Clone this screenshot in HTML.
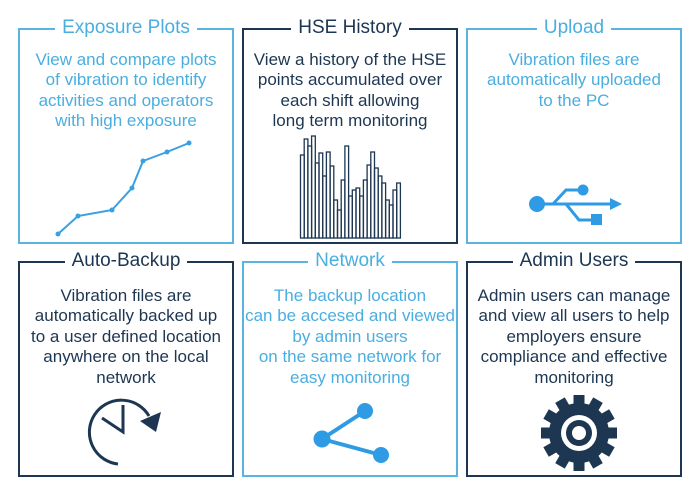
<!DOCTYPE html>
<html><head><meta charset="utf-8"><style>
body{margin:0;width:700px;height:501px;background:#fff;position:relative;overflow:hidden;font-family:"Liberation Sans",sans-serif}
.b{position:absolute;box-sizing:border-box;border:2px solid}
.l{border-color:#5ab4e2;color:#4aaee0}
.d{border-color:#1d3652;color:#1d3652}
.t{position:absolute;top:-13px;left:0;right:0;text-align:center;font-size:19px;line-height:22px}
.t span{background:#fff;padding:0 7px}
.x{position:absolute;left:-10px;right:-10px;text-align:center;font-size:17px;line-height:20.4px;white-space:nowrap}
svg{position:absolute;left:0;top:0}
</style></head><body>
<div class="b l" style="left:18px;top:28px;width:216px;height:216px"><div class="t"><span>Exposure Plots</span></div><div class="x" style="top:20px">View and compare plots<br>of vibration to identify<br>activities and operators<br>with high exposure</div></div>
<div class="b d" style="left:242px;top:28px;width:216px;height:216px"><div class="t"><span>HSE History</span></div><div class="x" style="top:20px">View a history of the HSE<br>points accumulated over<br>each shift allowing<br>long term monitoring</div></div>
<div class="b l" style="left:466px;top:28px;width:216px;height:216px"><div class="t"><span>Upload</span></div><div class="x" style="top:20px">Vibration files are<br>automatically uploaded<br>to the PC</div></div>
<div class="b d" style="left:18px;top:261px;width:216px;height:216px"><div class="t"><span>Auto-Backup</span></div><div class="x" style="top:23px">Vibration files are<br>automatically backed up<br>to a user defined location<br>anywhere on the local<br>network</div></div>
<div class="b l" style="left:242px;top:261px;width:216px;height:216px"><div class="t"><span>Network</span></div><div class="x" style="top:23px">The backup location<br>can be accesed and viewed<br>by admin users<br>on the same network for<br>easy monitoring</div></div>
<div class="b d" style="left:466px;top:261px;width:216px;height:216px"><div class="t"><span>Admin Users</span></div><div class="x" style="top:23px">Admin users can manage<br>and view all users to help<br>employers ensure<br>compliance and effective<br>monitoring</div></div>
<svg width="700" height="501">
<g fill="#3aa0e0" stroke="#3aa0e0">
<polyline fill="none" stroke-width="2" points="58,234 78,216 112,210 132,188 143,161 167,152 189,143"/>
<g stroke="none"><circle cx="58" cy="234" r="2.5"/><circle cx="78" cy="216" r="2.5"/><circle cx="112" cy="210" r="2.5"/><circle cx="132" cy="188" r="2.5"/><circle cx="143" cy="161" r="2.5"/><circle cx="167" cy="152" r="2.5"/><circle cx="189" cy="143" r="2.5"/></g>
</g>
<g fill="none" stroke="#1d3652" stroke-width="1.3">
<rect x="300.5" y="155" width="3.7" height="83"/><rect x="304.2" y="139" width="3.7" height="99"/><rect x="307.9" y="146" width="3.7" height="92"/><rect x="311.6" y="136" width="3.7" height="102"/><rect x="315.3" y="163" width="3.7" height="75"/><rect x="319" y="153" width="3.7" height="85"/><rect x="322.7" y="176" width="3.7" height="62"/><rect x="326.4" y="152" width="3.7" height="86"/><rect x="330.1" y="166" width="3.7" height="72"/><rect x="333.8" y="200" width="3.7" height="38"/><rect x="337.5" y="210" width="3.7" height="28"/><rect x="341.2" y="180" width="3.7" height="58"/><rect x="344.9" y="146" width="3.7" height="92"/><rect x="348.6" y="196" width="3.7" height="42"/><rect x="352.3" y="190" width="3.7" height="48"/><rect x="356" y="188" width="3.7" height="50"/><rect x="359.7" y="196" width="3.7" height="42"/><rect x="363.4" y="180" width="3.7" height="58"/><rect x="367.1" y="165" width="3.7" height="73"/><rect x="370.8" y="152" width="3.7" height="86"/><rect x="374.5" y="168" width="3.7" height="70"/><rect x="378.2" y="176" width="3.7" height="62"/><rect x="381.9" y="183" width="3.7" height="55"/><rect x="385.6" y="200" width="3.7" height="38"/><rect x="389.3" y="205" width="3.7" height="33"/><rect x="393" y="190" width="3.7" height="48"/><rect x="396.7" y="183" width="3.7" height="55"/>
</g>
<g fill="#2f9be4" stroke="#2f9be4" stroke-width="3">
<circle cx="537" cy="204" r="8" stroke="none"/>
<line x1="537" y1="204" x2="612" y2="204"/>
<polygon points="622,204 610,198 610,210" stroke="none"/>
<polyline fill="none" points="553,204 566,190 583,190"/>
<circle cx="583" cy="190" r="5.5" stroke="none"/>
<polyline fill="none" points="566,204 579,220 592,220"/>
<rect x="591" y="214" width="11" height="11" stroke="none"/>
</g>
<g fill="#2f9be4" stroke="#2f9be4" stroke-width="4">
<line x1="365" y1="411" x2="322" y2="439"/><line x1="322" y1="439" x2="381" y2="455"/>
<circle cx="365" cy="411" r="8" stroke="none"/><circle cx="322" cy="439" r="8.5" stroke="none"/><circle cx="381" cy="455" r="8" stroke="none"/>
</g>
<g fill="none" stroke="#1d3652" stroke-width="3">
<path d="M118,464 A32,32 0 1 1 149,416"/>
<polyline points="123,405 123,432 102,418"/>
</g>
<polygon points="140,421 161,412 156,432" fill="#1d3652"/>
<g transform="translate(579,433)" fill="#1d3652">
<circle r="30"/>
<g id="tt"><rect x="-5.5" y="-38" width="11" height="12"/></g>
<use href="#tt" transform="rotate(30)"/><use href="#tt" transform="rotate(60)"/><use href="#tt" transform="rotate(90)"/><use href="#tt" transform="rotate(120)"/><use href="#tt" transform="rotate(150)"/><use href="#tt" transform="rotate(180)"/><use href="#tt" transform="rotate(210)"/><use href="#tt" transform="rotate(240)"/><use href="#tt" transform="rotate(270)"/><use href="#tt" transform="rotate(300)"/><use href="#tt" transform="rotate(330)"/>
<circle r="18" fill="#fff"/><circle r="13"/><circle r="7" fill="#fff"/>
</g>
</svg>
</body></html>
